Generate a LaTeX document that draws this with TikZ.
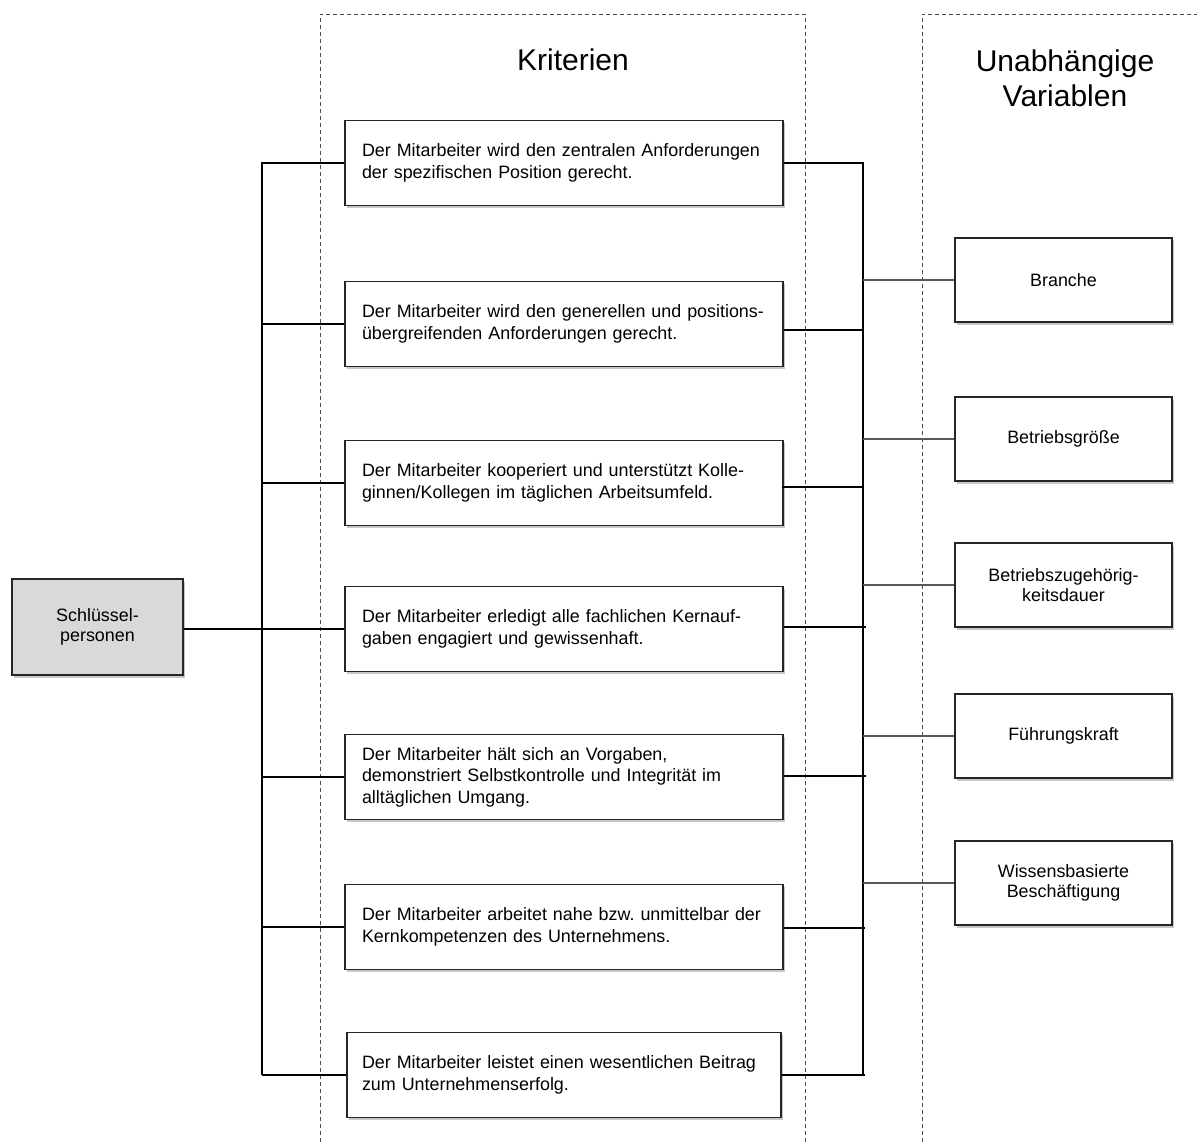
\documentclass[tikz,border=0pt]{standalone}
\usepackage{fontspec}
\setmainfont{Liberation Sans}
\frenchspacing
\usetikzlibrary{shadows,calc}
\begin{document}
\begin{tikzpicture}[x=1pt,y=-1pt,
  shd/.style={drop shadow={shadow xshift=1.5pt,shadow yshift=-2.5pt,opacity=0.22,fill=black}},
  critbox/.style={draw=black!85,line width=1.6pt,fill=white,shd,minimum width=438pt,minimum height=85pt,
    text width=404pt,align=left,inner sep=0pt,font=\fontsize{17.9}{21.5}\selectfont},
  varbox/.style={draw=black!85,line width=1.6pt,fill=white,shd,minimum width=217pt,minimum height=84pt,
    align=center,inner sep=0pt,font=\fontsize{17.9}{20}\selectfont},
  keybox/.style={draw=black!85,line width=1.6pt,fill=black!15,shd,minimum width=171pt,minimum height=96pt,
    align=center,inner sep=0pt,font=\fontsize{17.9}{20}\selectfont},
  title/.style={align=center,inner sep=0pt,font=\fontsize{30}{35}\selectfont},
  container/.style={draw=black!70,line width=0.8pt,dash pattern=on 4pt off 3pt},
  conn/.style={draw=black,line width=1.4pt},
  vconn/.style={draw=black!65,line width=1.1pt}
]
\useasboundingbox (0,0) rectangle (1197,1142);
\draw[container] (320,1142) -- (320,14) -- (805,14) -- (805,1142);
\draw[container] (922,1142) -- (922,14) -- (1197,14);

\node[title] (t1) at (573,60) {Kriterien};
\node[title] (t2) at (1065,78) {Unabhängige\\Variablen};

\coordinate (lt) at (262,162);
\coordinate (lb) at (262,1075);
\coordinate (rt) at (863,162);
\coordinate (rb) at (863,1075);

\node[critbox] (k1) at (564,163) {Der Mitarbeiter wird den zentralen Anforderungen\\der spezifischen Position gerecht.};
\node[critbox] (k2) at (564,324) {Der Mitarbeiter wird den generellen und positions-\\übergreifenden Anforderungen gerecht.};
\node[critbox] (k3) at (564,483) {Der Mitarbeiter kooperiert und unterstützt Kolle-\\ginnen/Kollegen im täglichen Arbeitsumfeld.};
\node[critbox] (k4) at (564,629) {Der Mitarbeiter erledigt alle fachlichen Kernauf-\\gaben engagiert und gewissenhaft.};
\node[critbox] (k5) at (564,777) {Der Mitarbeiter hält sich an Vorgaben,\\demonstriert Selbstkontrolle und Integrität im\\alltäglichen Umgang.};
\node[critbox] (k6) at (564,927) {Der Mitarbeiter arbeitet nahe bzw. unmittelbar der\\Kernkompetenzen des Unternehmens.};
\node[critbox,minimum width=434pt] (k7) at (564,1075) {Der Mitarbeiter leistet einen wesentlichen Beitrag\\zum Unternehmenserfolg.};

\node[keybox] (sp) at (97.5,627) {Schlüssel-\\personen};

\node[varbox] (v1) at (1063.5,280) {Branche};
\node[varbox] (v2) at (1063.5,439) {Betriebsgröße};
\node[varbox] (v3) at (1063.5,585) {Betriebszugehörig-\\keitsdauer};
\node[varbox] (v4) at (1063.5,736) {Führungskraft};
\node[varbox] (v5) at (1063.5,883) {Wissensbasierte\\Beschäftigung};

% left tree
\draw[conn] (lt) -- (lb);
\foreach \k in {k1,k2,k3,k5,k6,k7} {\draw[conn] (\k.west -| lt) -- (\k.west);}
\draw[conn] (sp.east |- k4.west) -- (k4.west);

% right tree
\draw[conn] (rt) -- (rb);
\draw[conn] (k1.east) -- (k1.east -| rt);
\draw[conn] ([yshift=-6pt]k2.east) -- ([yshift=-6pt]k2.east -| rt);
\draw[conn] ([yshift=-4pt,xshift=-2pt]k3.east) -- ([yshift=-4pt]k3.east -| rt);
\draw[conn] ([yshift=2pt]k4.east) -- ([yshift=2pt,xshift=3pt]k4.east -| rt);
\draw[conn] ([yshift=1pt]k5.east) -- ([yshift=1pt,xshift=3pt]k5.east -| rt);
\draw[conn] ([yshift=-1pt]k6.east) -- ([yshift=-1pt,xshift=2pt]k6.east -| rt);
\draw[conn] (k7.east) -- ([xshift=2pt]k7.east -| rt);

\foreach \v in {v1,v2,v3,v4,v5} {\draw[vconn] (\v.west -| rt) -- (\v.west);}
\end{tikzpicture}
\end{document}
